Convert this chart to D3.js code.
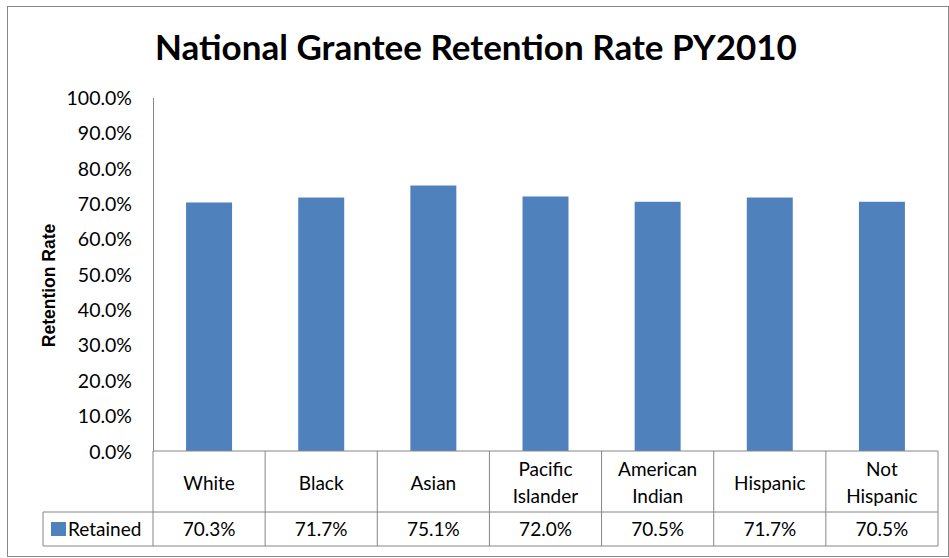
<!DOCTYPE html>
<html>
<head>
<meta charset="utf-8">
<script src="https://cdn.jsdelivr.net/npm/d3@7"></script>
<style>
  body { margin: 0; background: #fff; }
  text { font-family: Lato, "Open Sans", sans-serif; fill: #000; }
</style>
</head>
<body>
<div id="chart"></div>
<script>
const categories = [["White"], ["Black"], ["Asian"], ["Pacific", "Islander"], ["American", "Indian"], ["Hispanic"], ["Not", "Hispanic"]];
const retained = [70.3, 71.7, 75.1, 72.0, 70.5, 71.7, 70.5];
const yTicks = [0, 10, 20, 30, 40, 50, 60, 70, 80, 90, 100];
const seriesName = "Retained";

const width = 949, height = 558;
const plot = {left: 153, right: 938, top: 97.5, bottom: 451};
const rowCat = 512, rowVal = 546, legendLeft = 43;

const svg = d3.select("#chart").append("svg")
    .attr("width", width)
    .attr("height", height);

svg.append("rect")
    .attr("x", 7.5).attr("y", 6.5)
    .attr("width", 941).attr("height", 550)
    .attr("fill", "#fff").attr("stroke", "#888").attr("stroke-width", 1);

svg.append("text")
    .attr("x", 476).attr("y", 60)
    .attr("text-anchor", "middle")
    .style("font-size", "35px").style("font-weight", "bold")
    .text("National Grantee Retention Rate PY2010");

var x = d3.scaleBand()
    .domain(d3.range(categories.length))
    .range([plot.left, plot.right])
    .paddingInner(0).paddingOuter(0);

var y = d3.scaleLinear()
    .domain([0, 100])
    .range([plot.bottom, plot.top]);

// bars
const barW = x.bandwidth() * 0.41;
svg.selectAll("rect.bar").data(retained).enter().append("rect")
    .attr("class", "bar")
    .attr("x", (d, i) => x(i) + (x.bandwidth() - barW) / 2)
    .attr("y", d => y(d))
    .attr("width", barW)
    .attr("height", d => y(0) - y(d))
    .attr("fill", "#4F81BD");

// y axis
var yAxis = d3.axisLeft(y)
    .tickValues(yTicks)
    .tickSize(0)
    .tickPadding(21)
    .tickFormat(d => d.toFixed(1) + "%");

var yAxisG = svg.append("g")
    .attr("transform", `translate(${plot.left}, 0)`)
    .call(yAxis);
yAxisG.select(".domain").attr("stroke", "#868686");
yAxisG.selectAll("text")
    .style("font-family", "Lato, sans-serif")
    .style("font-size", "19.5px")
    .attr("dy", "0.36em");

svg.append("text")
    .attr("transform", `translate(55, 285.5) rotate(-90)`)
    .attr("text-anchor", "middle")
    .style("font-family", "'Liberation Sans', Arial, sans-serif")
    .style("font-size", "17.5px").style("font-weight", "bold")
    .text("Retention Rate");

// data table
const grid = svg.append("g").attr("stroke", "#868686").attr("fill", "none");
grid.append("line").attr("x1", plot.left).attr("x2", plot.right).attr("y1", plot.bottom).attr("y2", plot.bottom);
grid.append("line").attr("x1", legendLeft).attr("x2", plot.right).attr("y1", rowCat).attr("y2", rowCat);
grid.append("line").attr("x1", legendLeft).attr("x2", plot.right).attr("y1", rowVal).attr("y2", rowVal);
grid.append("line").attr("x1", legendLeft).attr("x2", legendLeft).attr("y1", rowCat).attr("y2", rowVal);
grid.append("line").attr("x1", plot.left).attr("x2", plot.left).attr("y1", plot.bottom).attr("y2", rowVal);
grid.selectAll("line.col").data(d3.range(categories.length)).enter().append("line")
    .attr("x1", i => x(i) + x.bandwidth()).attr("x2", i => x(i) + x.bandwidth())
    .attr("y1", plot.bottom).attr("y2", rowVal);

const catText = svg.selectAll("text.cat").data(categories).enter().append("text")
    .attr("class", "cat")
    .attr("text-anchor", "middle")
    .style("font-size", "19px")
    .attr("x", (d, i) => x(i) + x.bandwidth() / 2)
    .attr("y", d => d.length > 1 ? 476 : 490);
catText.selectAll("tspan").data(d => d).enter().append("tspan")
    .attr("x", function () { return this.parentNode.getAttribute("x"); })
    .attr("dy", (d, i) => i === 0 ? 0 : 26.5)
    .text(d => d);

svg.selectAll("text.val").data(retained).enter().append("text")
    .attr("class", "val")
    .attr("text-anchor", "middle")
    .style("font-size", "19px")
    .attr("x", (d, i) => x(i) + x.bandwidth() / 2)
    .attr("y", 536)
    .text(d => d.toFixed(1) + "%");

svg.append("rect")
    .attr("x", 51).attr("y", 522)
    .attr("width", 15).attr("height", 14)
    .attr("fill", "#4F81BD");
svg.append("text")
    .attr("x", 68).attr("y", 536)
    .style("font-size", "19px")
    .text(seriesName);
</script>
</body>
</html>
